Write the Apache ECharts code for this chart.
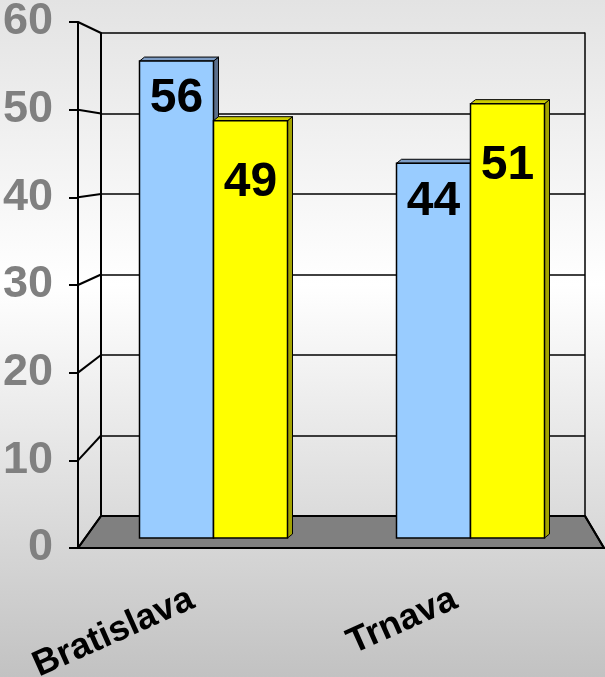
<!DOCTYPE html>
<html>
<head>
<meta charset="utf-8">
<script src="https://cdn.jsdelivr.net/npm/echarts@6/dist/echarts.min.js"></script>
<style>
  html, body { margin: 0; padding: 0; }
  #main { width: 605px; height: 677px; }
</style>
</head>
<body>
<div id="main"></div>
<script>
// data
var cities = ['Bratislava', 'Trnava'];
var blueValues = [56, 44];
var yellowValues = [49, 51];
var yTicks = [0, 10, 20, 30, 40, 50, 60];

var font = '"Liberation Sans", Arial, sans-serif';
var chart = echarts.init(document.getElementById('main'));

// front / back wall positions
var front = { left: 78, right: 604, top: 22, bottom: 548 };
var back = { left: 101, right: 585, top: 33, bottom: 516 };
var depth = [5, 4];

function barItem(colors, side, labelDist) {
  return function (params, api) {
    var c = api.coord([api.value(0), api.value(1)]);
    var base = api.coord([api.value(0), 0]);
    var w = 74;
    var x0 = side < 0 ? c[0] - w : c[0];
    var x1 = x0 + w;
    var top = c[1], bot = base[1];
    var dx = depth[0], dy = depth[1];
    return {
      type: 'group',
      children: [
        { type: 'polygon', shape: { points: [[x1, top], [x1 + dx, top - dy], [x1 + dx, bot - dy], [x1, bot]] },
          style: { fill: colors[1], stroke: '#000', lineWidth: 1 } },
        { type: 'polygon', shape: { points: [[x0, top], [x0 + dx, top - dy], [x1 + dx, top - dy], [x1, top]] },
          style: { fill: colors[2], stroke: '#000', lineWidth: 1 } },
        { type: 'rect', shape: { x: x0, y: top, width: w, height: bot - top },
          style: { fill: colors[0], stroke: '#000', lineWidth: 1.5 } },
        { type: 'text', x: (x0 + x1) / 2, y: top + labelDist,
          style: { text: String(api.value(1)), fill: '#000', font: 'bold 48px ' + font,
                   align: 'center', verticalAlign: 'top' } }
      ]
    };
  };
}

chart.setOption({
  backgroundColor: {
    type: 'linear', x: 0, y: 0, x2: 0, y2: 1,
    colorStops: [
      { offset: 0, color: '#e3e3e3' },
      { offset: 0.42, color: '#ffffff' },
      { offset: 1, color: '#c2c2c2' }
    ]
  },
  animation: false,
  grid: [
    { left: front.left, right: 605 - front.right, top: front.top, bottom: 677 - front.bottom, outerBoundsMode: 'none' },
    { left: back.left, right: 605 - back.right, top: back.top, bottom: 677 - back.bottom, outerBoundsMode: 'none' },
    { left: 85, right: 6, top: 27, bottom: 139, outerBoundsMode: 'none' }
  ],
  xAxis: [
    { gridIndex: 0, type: 'category', data: cities, z: 5,
      axisLine: { lineStyle: { color: '#000', width: 2 } },
      axisTick: { length: 10, lineStyle: { color: '#000', width: 2 } },
      axisLabel: { rotate: 24, margin: 42, padding: [0, 19, 0, 0], color: '#000',
                   fontFamily: font, fontWeight: 'bold', fontSize: 36 } },
    { gridIndex: 1, type: 'category', data: cities, show: false },
    { gridIndex: 2, type: 'category', data: cities, show: false }
  ],
  yAxis: [
    { gridIndex: 0, type: 'value', min: 0, max: 60, interval: 10, z: 5,
      axisLine: { show: true, lineStyle: { color: '#000', width: 2 } },
      axisTick: { show: true, length: 9, lineStyle: { color: '#000', width: 2 } },
      splitLine: { show: false },
      axisLabel: { margin: 25, color: '#808080', fontFamily: font,
                   fontWeight: 'bold', fontSize: 45,
                   formatter: function (v) { return yTicks.indexOf(v) >= 0 ? String(v) : ''; } } },
    { gridIndex: 1, type: 'value', min: 0, max: 60, interval: 10,
      axisLine: { show: true, lineStyle: { color: '#000', width: 2 } },
      axisTick: { show: false }, axisLabel: { show: false },
      splitLine: { show: true, lineStyle: { color: '#000', width: 1.5 } } },
    { gridIndex: 1, type: 'value', position: 'right', min: 0, max: 60, interval: 10,
      axisLine: { show: true, lineStyle: { color: '#000', width: 1.5 } },
      axisTick: { show: false }, axisLabel: { show: false }, splitLine: { show: false } },
    { gridIndex: 2, type: 'value', min: 0, max: 60, show: false }
  ],
  series: [
    { type: 'custom', xAxisIndex: 2, yAxisIndex: 3, z: 3,
      renderItem: barItem(['#99ccff', '#5b6f8c', '#7d9cc4'], -1, 14),
      data: blueValues.map(function (v, i) { return [i, v]; }) },
    { type: 'custom', xAxisIndex: 2, yAxisIndex: 3, z: 3,
      renderItem: barItem(['#ffff00', '#a3a300', '#cccc00'], 1, 38),
      data: yellowValues.map(function (v, i) { return [i, v]; }) }
  ]
});

// floor and the slanted lines from the front axis to the back wall
var yF = function (v) { return chart.convertToPixel({ yAxisIndex: 0 }, v); };
var yB = function (v) { return chart.convertToPixel({ yAxisIndex: 1 }, v); };
var frame = [{
  type: 'polygon', z: 1,
  shape: { points: [[front.left, yF(0)], [front.right, yF(0)], [back.right, yB(0)], [back.left, yB(0)]] },
  style: { fill: '#808080', stroke: '#000', lineWidth: 2 }
}];
yTicks.forEach(function (v) {
  frame.push({
    type: 'line', z: 1,
    shape: { x1: front.left, y1: yF(v), x2: back.left, y2: yB(v) },
    style: { stroke: '#000', lineWidth: 2 }
  });
});
frame.push({
  type: 'line', z: 1,
  shape: { x1: front.right, y1: yF(0), x2: back.right, y2: yB(0) },
  style: { stroke: '#000', lineWidth: 2 }
});
chart.setOption({ graphic: frame });
</script>
</body>
</html>
